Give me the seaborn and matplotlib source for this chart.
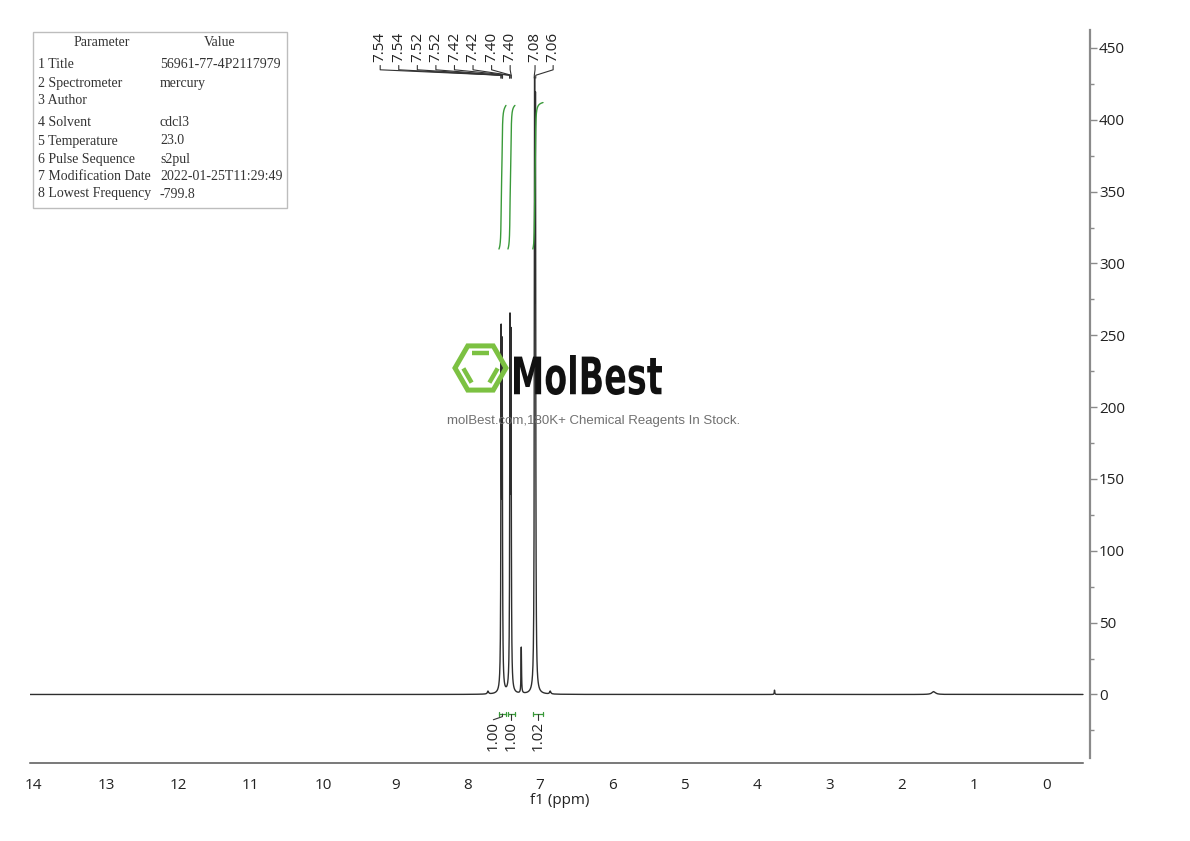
import numpy as np
import pandas as pd
import seaborn as sns
import matplotlib.pyplot as plt
from matplotlib.patches import Rectangle, RegularPolygon, PathPatch
from matplotlib.textpath import TextPath
from matplotlib.font_manager import FontProperties
from matplotlib.transforms import Affine2D
from matplotlib.ticker import MultipleLocator

# spectrum lines: shift (ppm), height, half width (ppm)
peak_ppm = [7.538, 7.524, 7.416, 7.402, 7.076, 7.064, 7.26, 7.72, 6.86, 3.76, 1.56]
peak_height = [236, 226, 243, 232, 384, 372, 32, 2, 2, 3, 2]
peak_hwhm = [0.0045, 0.0045, 0.0045, 0.0045, 0.0045, 0.0045, 0.004, 0.01, 0.01, 0.004, 0.03]

# peak picking labels
peak_labels = ["7.54", "7.54", "7.52", "7.52", "7.42", "7.42", "7.40", "7.40", "7.08", "7.06"]

# integrals: (from, to) in ppm and values
integral_ranges = [(7.569, 7.472), (7.444, 7.348), (7.10, 6.96)]
integral_values = [1.00, 1.00, 1.02]

# parameter table
param_names = ["1 Title", "2 Spectrometer", "3 Author", "4 Solvent", "5 Temperature",
               "6 Pulse Sequence", "7 Modification Date", "8 Lowest Frequency"]
param_values = ["56961-77-4P2117979", "mercury", "", "cdcl3", "23.0", "s2pul",
                "2022-01-25T11:29:49", "-799.8"]

W, H = 1190, 841
GREEN = '#3a9a3a'
LOGO_GREEN = '#7cc142'

sns.set_theme(style="white")
plt.rcParams['font.family'] = ['Open Sans', 'DejaVu Sans']

# build the spectrum from the line list
ppm = np.linspace(-0.503, 14.05, 29107)
intensity = np.zeros_like(ppm)
for p, h, w in zip(peak_ppm, peak_height, peak_hwhm):
    intensity += h / (1 + ((ppm - p) / w) ** 2)
spec = pd.DataFrame({'ppm': ppm, 'intensity': intensity})

fig = plt.figure(figsize=(W / 100, H / 100), dpi=100)
ax = fig.add_axes([30 / W, 78 / H, 1060 / W, 733 / H])

sns.lineplot(data=spec, x='ppm', y='intensity', ax=ax, color='#2e2e2e', lw=1.0,
             estimator=None, sort=False)

# integral curves
for (hi, lo), val in zip(integral_ranges, integral_values):
    m = (ppm <= hi) & (ppm >= lo)
    xs = ppm[m][::-1]
    cum = np.cumsum(intensity[m][::-1])
    cum = 310 + 100 * val * cum / cum[-1]
    sns.lineplot(x=xs, y=cum, ax=ax, color=GREEN, lw=1.0, estimator=None, sort=False)

# integral brackets and labels
centers = [(hi + lo) / 2 for hi, lo in integral_ranges]
label_pos = list(centers)
for i in range(len(label_pos) - 2, -1, -1):
    label_pos[i] = max(centers[i], label_pos[i + 1] + 0.25)
for (hi, lo), c, lp, val in zip(integral_ranges, centers, label_pos, integral_values):
    yb = -13.6
    ax.plot([hi, lo], [yb, yb], color=GREEN, lw=0.9)
    ax.plot([hi, hi], [yb - 1.6, yb + 1.6], color=GREEN, lw=0.9)
    ax.plot([lo, lo], [yb - 1.6, yb + 1.6], color=GREEN, lw=0.9)
    ax.plot([c, c, lp], [yb, yb - 1.8, yb - 4.0], color='#333333', lw=0.8)
    ax.text(lp, yb - 4.6, f"{val:.2f}", rotation=90, ha='center', va='top',
            fontsize=11, color='#222222')

# peak labels with legs
label_x = [9.21 - 0.2566 * i for i in range(8)] + [7.07, 6.82]
for lx, txt in zip(label_x, peak_labels):
    target = float(txt)
    ax.text(lx, 440.5, txt, rotation=90, ha='center', va='bottom', fontsize=11,
            color='#222222')
    ax.plot([lx, lx, target, target], [437.8, 434.8, 431.0, 429.0],
            color='#333333', lw=0.8, clip_on=False)

ax.set_xlim(14.05, -0.60)
ax.set_ylim(-47.7, 462.5)

ax.yaxis.tick_right()
ax.yaxis.set_major_locator(MultipleLocator(50))
ax.yaxis.set_minor_locator(MultipleLocator(25))
ax.set_yticks(np.arange(0, 451, 50))
ax.set_yticks(np.arange(-25, 451, 50), minor=True)
ax.set_xticks(np.arange(0, 15, 1))
ax.set_xticks(np.arange(-0.5, 14, 1), minor=True)

for s in ['left', 'top']:
    ax.spines[s].set_visible(False)
ax.spines['right'].set_color('#8a8a8a')
ax.spines['right'].set_linewidth(1.6)
ax.spines['right'].set_bounds(-44, 462.5)
ax.spines['bottom'].set_color('#555555')
ax.spines['bottom'].set_linewidth(1.1)
ax.spines['bottom'].set_bounds(14.05, -0.503)

ax.tick_params(axis='y', which='major', direction='out', length=5, width=1,
               color='#8a8a8a', labelsize=11, pad=1.5, labelcolor='#222222')
ax.tick_params(axis='y', which='minor', direction='out', length=3, width=1,
               color='#8a8a8a')
ax.tick_params(axis='x', which='major', direction='out', length=5, width=1,
               color='#555555', labelsize=11, pad=6, labelcolor='#222222')
ax.tick_params(axis='x', which='minor', direction='out', length=3, width=1,
               color='#555555')
ax.set_ylabel('')
ax.set_xlabel('f1 (ppm)', fontsize=11, labelpad=0, color='#222222')
ax.grid(False)

# pixel space transform for overlays
T = Affine2D().scale(1 / W, 1 / H) + fig.transFigure

# parameter table
fig.add_artist(Rectangle((33, H - 208), 254, 176, transform=T, fill=False,
                         edgecolor='#bdbdbd', lw=1.0))
tfont = dict(family='Liberation Serif', fontsize=10, color='#333333')
fig.text(102 / W, 1 - 43 / H, "Parameter", ha='center', va='center', **tfont)
fig.text(220 / W, 1 - 43 / H, "Value", ha='center', va='center', **tfont)
row_y = [65, 83, 101, 123, 141, 159, 176, 194]
for ry, n, v in zip(row_y, param_names, param_values):
    fig.text(38 / W, 1 - ry / H, n, ha='left', va='center', **tfont)
    fig.text(160 / W, 1 - ry / H, v, ha='left', va='center', **tfont)

# watermark logo
cx, cy, r = 480.5, H - 368, 25.5
fig.add_artist(RegularPolygon((cx, cy), numVertices=6, radius=r, orientation=np.pi / 6,
                              transform=T, fill=False, edgecolor=LOGO_GREEN, lw=3.6))
ri = 0.68 * r
for a0 in [60, 180, 300]:
    a1 = a0 + 60
    p0 = np.array([cx + ri * np.cos(np.radians(a0)), cy + ri * np.sin(np.radians(a0))])
    p1 = np.array([cx + ri * np.cos(np.radians(a1)), cy + ri * np.sin(np.radians(a1))])
    mid = (p0 + p1) / 2
    q0, q1 = mid + 0.95 * (p0 - mid), mid + 0.95 * (p1 - mid)
    fig.add_artist(plt.Line2D([q0[0], q1[0]], [q0[1], q1[1]], transform=T,
                              color=LOGO_GREEN, lw=3.2, solid_capstyle='butt'))

tp = TextPath((0, 0), "MolBest", size=100,
              prop=FontProperties(family='DejaVu Sans', weight='bold'))
ext = tp.get_extents()
sx, sy = 148 / ext.width, 40 / ext.height
tr = Affine2D().translate(-ext.x0, -ext.y0).scale(sx, sy).translate(514, H - 395)
fig.add_artist(PathPatch(tr.transform_path(tp), transform=T, facecolor='#111111',
                         edgecolor='none'))
fig.text(594 / W, 1 - 421 / H, "molBest.com,180K+ Chemical Reagents In Stock.",
         ha='center', va='center', fontsize=9.5, color='#707070', family='Liberation Sans')

fig.savefig('out.png', dpi=100)
